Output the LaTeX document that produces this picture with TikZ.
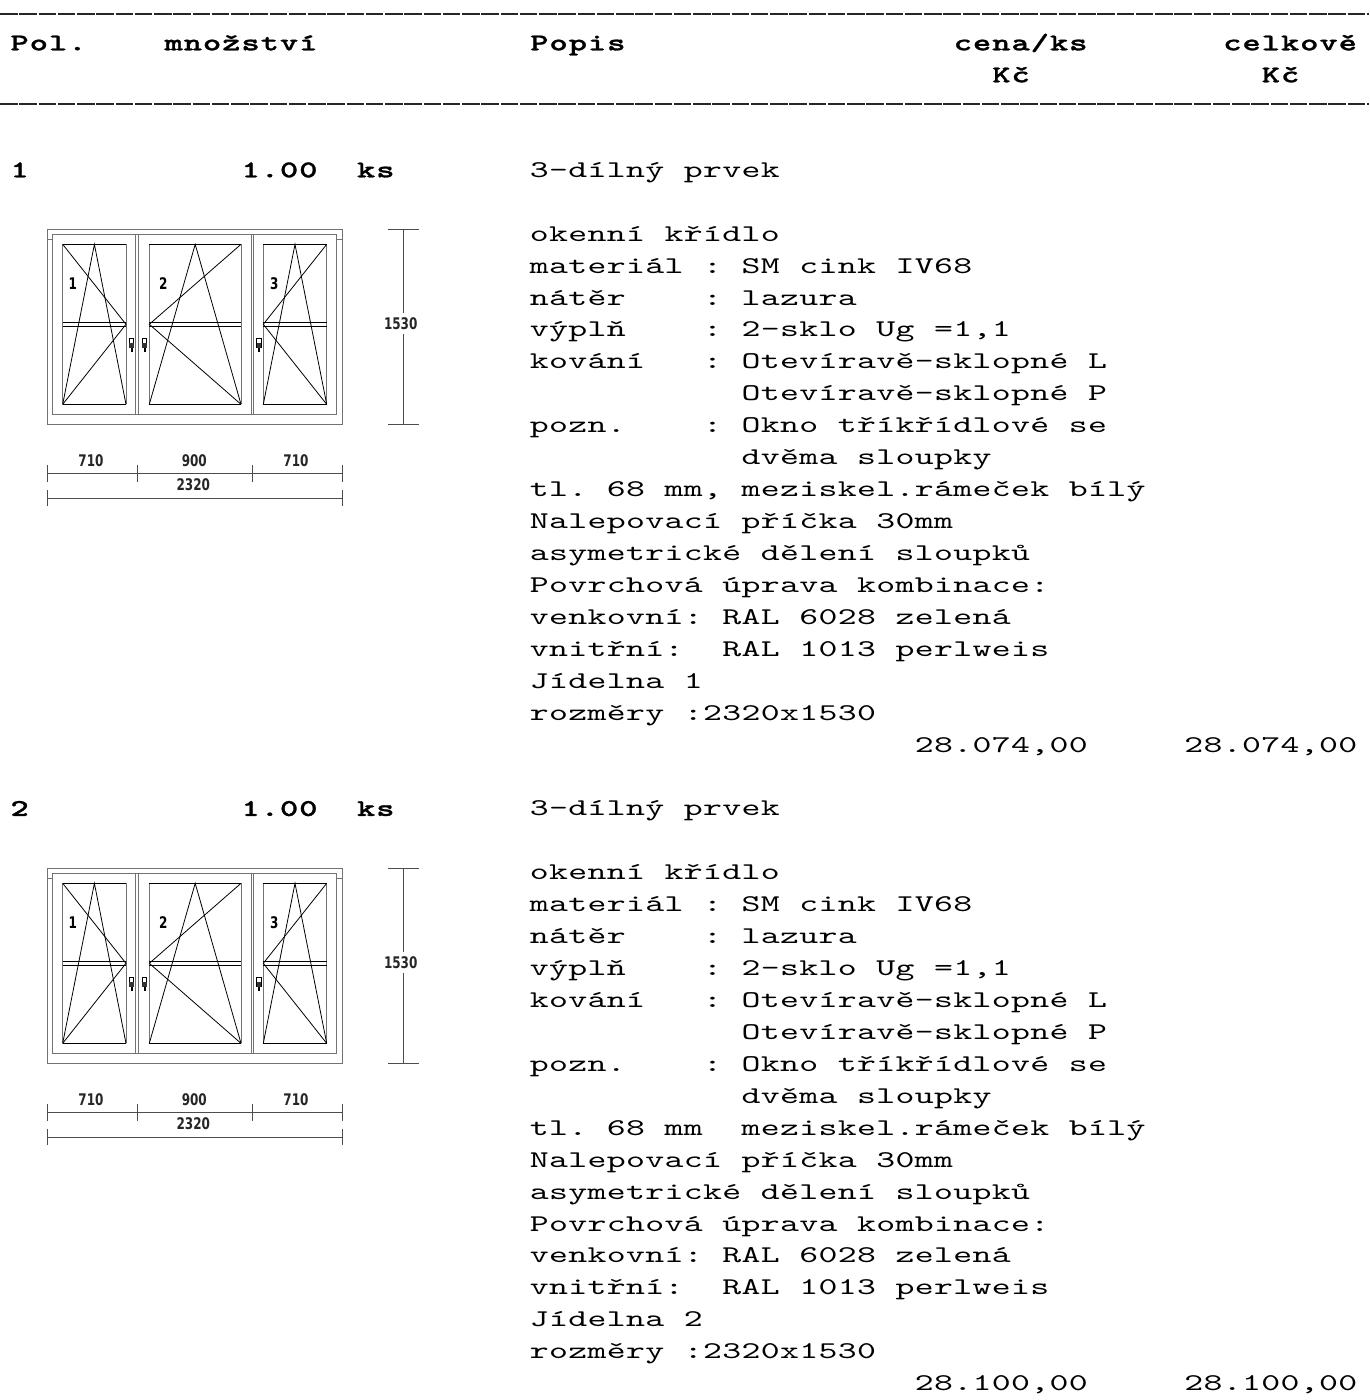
\documentclass[tikz,border=0pt]{standalone}
\usepackage{fontspec}
\newfontfamily\monoR{lmmono10-regular.otf}[FakeStretch=1.5]
\newfontfamily\monoB{lmmonolt10-bold.otf}[FakeStretch=1.45,FakeBold=1.2]
\newfontfamily\dimf{DejaVu Sans}[FakeStretch=0.75]
\ExplSyntaxOn
\NewDocumentCommand\cells{m}{ \str_map_inline:nn {#1} { \makebox[19.25pt][c]{##1} } }
\ExplSyntaxOff
\newcount\nodecnt
\newcommand\TT[4]{\global\advance\nodecnt by 1\relax
  \edef\nn{t\the\nodecnt}%
  \node[txt,font=#1\fontsize{24}{24}\selectfont] (\nn) at ({10+19.25*#2},{#3}) {\cells{#4}};}
\newcommand\T[3]{\TT{\monoR}{#1}{177.3+31.93*#2}{#3}}
\newcommand\B[3]{\TT{\monoB}{#1}{177.3+31.93*#2}{#3}}
\newcommand\HB[3]{\TT{\monoB}{#1}{#2}{#3}}
\tikzset{
  txt/.style={anchor=base west,inner sep=0pt,outer sep=0pt},
  hdr/.style={line width=1.6pt,dash pattern=on 17.5pt off 1.75pt,black!85},
  frm/.style={line width=0.9pt,black!55},
  gl/.style={line width=0.9pt,black},
  opn/.style={line width=0.8pt,black},
  dimln/.style={line width=1pt,black!70},
  dimlab/.style={font=\dimf\bfseries\fontsize{16}{16}\selectfont,inner sep=1pt,text=black!85},
  wnum/.style={font=\dimf\bfseries\fontsize{16}{16}\selectfont,inner sep=0pt,text=black}
}
\newcommand\windowat[2]{%
\begin{scope}[shift={(0,#1)}]
  \draw[frm] (47.3,229) rectangle (342,424);
  \draw[frm] (52.7,234.3) rectangle (336.7,414.3);
  \draw[frm] (47.3,239) -- (52.7,239) (336.7,239) -- (342,239);
  \foreach \a/\b in {52.7/135.5, 138.8/251, 253.3/336.7}
    \draw[frm] (\a,234.3) rectangle (\b,414.3);
  \foreach \a/\b in {62.7/126, 149.3/241, 263.3/326.7}{
    \draw[frm] (\a,244.3) -- (\a,404.3) (\b,244.3) -- (\b,404.3);
    \draw[gl] (\a,244.3) -- (\b,244.3) (\a,404.3) -- (\b,404.3)
              (\a,322.3) -- (\b,322.3) (\a,326.3) -- (\b,326.3);}
  % opening symbols
  \draw[opn] (62.7,244.3) -- (126,324.3) -- (62.7,404.3);
  \draw[opn] (62.7,404.3) -- (94.4,244.3) -- (126,404.3);
  \draw[opn] (241,244.3) -- (149.3,324.3) -- (241,404.3);
  \draw[opn] (149.3,404.3) -- (195.2,244.3) -- (241,404.3);
  \draw[opn] (326.7,244.3) -- (263.3,324.3) -- (326.7,404.3);
  \draw[opn] (263.3,404.3) -- (295,244.3) -- (326.7,404.3);
  % handles
  \foreach \x in {131.5,144.5,259}{
    \draw[black,line width=0.7pt,fill=white] ({\x-2.3},338.3) rectangle ({\x+2.3},347.5);
    \fill[black!80] ({\x-2.3},343) rectangle ({\x+2.3},347.5);
    \fill[black] ({\x-1},347.5) rectangle ({\x+1},352.3);}
  % sash numbers
  \node[wnum] (#2n1) at (72.7,283.3) {1};
  \node[wnum] (#2n2) at (163.3,283.3) {2};
  \node[wnum] (#2n3) at (274.3,283.3) {3};
  % vertical dimension
  \draw[dimln] (388.3,229) -- (418.7,229) (388.3,424) -- (418.7,424);
  \draw[dimln] (403.3,229) -- (403.3,312.5) (403.3,334) -- (403.3,424);
  \node[dimlab] (#2h) at (400.7,323.3) {1530};
  % horizontal dimensions
  \draw[dimln] (47.3,473.3) -- (342,473.3);
  \foreach \x in {47.3,137.3,252.3,342} \draw[dimln] (\x,465) -- (\x,481.7);
  \node[dimlab] (#2a) at (91,460.7) {710};
  \node[dimlab] (#2b) at (194.3,460.7) {900};
  \node[dimlab] (#2c) at (296,460.7) {710};
  \draw[dimln] (47.3,498.3) -- (342,498.3);
  \draw[dimln] (47.3,490) -- (47.3,506) (342,490) -- (342,506);
  \node[dimlab] (#2t) at (193.3,484.3) {2320};
\end{scope}}
\begin{document}
\begin{tikzpicture}[x=1pt,y=-1pt]
\useasboundingbox (0,0) rectangle (1369,1400);
\fill[white] (0,0) rectangle (1369,1400);
% header
\draw[hdr] (0,14) -- (1369,14);
\draw[hdr] (0,104) -- (1369,104);
\HB{0}{50.3}{Pol.}
\HB{8}{50.3}{množství}
\HB{27}{50.3}{Popis}
\HB{49}{50.3}{cena/ks}
\HB{63}{50.3}{celkově}
\HB{51}{82.3}{Kč}
\HB{65}{82.3}{Kč}
% item 1
\B{0}{0}{1} \B{12}{0}{1.00} \B{18}{0}{ks} \T{27}{0}{3-dílný prvek}
\T{27}{2}{okenní křídlo}
\T{27}{3}{materiál : SM cink IV68}
\T{27}{4}{nátěr} \T{36}{4}{: lazura}
\T{27}{5}{výplň} \T{36}{5}{: 2-sklo Ug =1,1}
\T{27}{6}{kování} \T{36}{6}{: Otevíravě-sklopné L}
\T{38}{7}{Otevíravě-sklopné P}
\T{27}{8}{pozn.} \T{36}{8}{: Okno tříkřídlové se}
\T{38}{9}{dvěma sloupky}
\T{27}{10}{tl. 68 mm, meziskel.rámeček bílý}
\T{27}{11}{Nalepovací příčka 30mm}
\T{27}{12}{asymetrické dělení sloupků}
\T{27}{13}{Povrchová úprava kombinace:}
\T{27}{14}{venkovní: RAL 6028 zelená}
\T{27}{15}{vnitřní:} \T{37}{15}{RAL 1013 perlweis}
\T{27}{16}{Jídelna 1}
\T{27}{17}{rozměry :2320x1530}
\T{47}{18}{28.074,00} \T{61}{18}{28.074,00}
% item 2
\B{0}{20}{2} \B{12}{20}{1.00} \B{18}{20}{ks} \T{27}{20}{3-dílný prvek}
\T{27}{22}{okenní křídlo}
\T{27}{23}{materiál : SM cink IV68}
\T{27}{24}{nátěr} \T{36}{24}{: lazura}
\T{27}{25}{výplň} \T{36}{25}{: 2-sklo Ug =1,1}
\T{27}{26}{kování} \T{36}{26}{: Otevíravě-sklopné L}
\T{38}{27}{Otevíravě-sklopné P}
\T{27}{28}{pozn.} \T{36}{28}{: Okno tříkřídlové se}
\T{38}{29}{dvěma sloupky}
\T{27}{30}{tl. 68 mm} \T{38}{30}{meziskel.rámeček bílý}
\T{27}{31}{Nalepovací příčka 30mm}
\T{27}{32}{asymetrické dělení sloupků}
\T{27}{33}{Povrchová úprava kombinace:}
\T{27}{34}{venkovní: RAL 6028 zelená}
\T{27}{35}{vnitřní:} \T{37}{35}{RAL 1013 perlweis}
\T{27}{36}{Jídelna 2}
\T{27}{37}{rozměry :2320x1530}
\T{47}{38}{28.100,00} \T{61}{38}{28.100,00}
% windows
\windowat{0}{wa}
\windowat{639}{wb}
\end{tikzpicture}
\end{document}
